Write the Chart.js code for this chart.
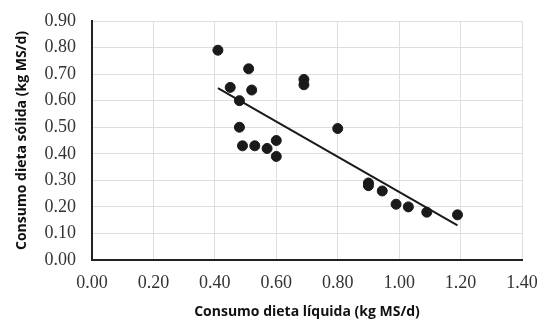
<!DOCTYPE html>
<html>
<head>
<meta charset="utf-8">
<script src="https://cdn.jsdelivr.net/npm/chart.js@4"></script>
<style>
  html, body { margin: 0; padding: 0; background: #fff; }
  #wrap { width: 540px; height: 324px; }
</style>
</head>
<body>
<div id="wrap"><canvas id="scatterChart"></canvas></div>
<script>
// datos
const liquida = [0.41, 0.45, 0.51, 0.52, 0.48, 0.48, 0.49, 0.53, 0.57, 0.60, 0.60, 0.69, 0.69, 0.80, 0.90, 0.90, 0.945, 0.99, 1.03, 1.09, 1.19];
const solida  = [0.79, 0.65, 0.72, 0.64, 0.60, 0.50, 0.43, 0.43, 0.42, 0.45, 0.39, 0.68, 0.66, 0.495, 0.29, 0.28, 0.26, 0.21, 0.20, 0.18, 0.17];
// línea de tendencia (extremos)
const trendX = [0.41, 1.19];
const trendY = [0.647, 0.13];

const puntos = liquida.map((x, i) => ({ x: x, y: solida[i] }));
const tendencia = trendX.map((x, i) => ({ x: x, y: trendY[i] }));

const tickFont = { family: 'Liberation Serif', size: 18 };
const titleFont = { family: 'Open Sans', size: 14, weight: 'bold' };

const ctx = document.getElementById('scatterChart').getContext('2d');
new Chart(ctx, {
    type: 'scatter',
    data: {
        datasets: [{
            data: puntos,
            backgroundColor: '#1a1a1a',
            borderColor: '#1a1a1a',
            pointRadius: 5,
            pointHoverRadius: 5
        }, {
            type: 'line',
            data: tendencia,
            borderColor: '#1a1a1a',
            borderWidth: 2,
            pointRadius: 0,
            fill: false
        }]
    },
    options: {
        responsive: true,
        maintainAspectRatio: false,
        animation: false,
        layout: { padding: { top: 21, right: 18, left: 5, bottom: 0 } },
        plugins: { legend: { display: false }, tooltip: { enabled: false } },
        scales: {
            x: {
                type: 'linear',
                min: 0, max: 1.4,
                ticks: { stepSize: 0.2, color: '#333', font: tickFont, padding: 12,
                         callback: v => v.toFixed(2) },
                grid: { color: '#dedede', lineWidth: 1, drawTicks: false },
                border: { color: '#222', width: 2 },
                title: { display: true, text: 'Consumo dieta líquida (kg MS/d)', color: '#111',
                         font: titleFont, padding: { top: 14 } },
                afterFit: s => { s.height = 64; s.paddingRight = 0; s.paddingLeft = 0; }
            },
            y: {
                min: 0, max: 0.9,
                ticks: { stepSize: 0.1, color: '#333', font: tickFont, padding: 16,
                         callback: v => v.toFixed(2) },
                grid: { color: '#dedede', lineWidth: 1, drawTicks: false },
                border: { color: '#222', width: 2 },
                title: { display: true, text: 'Consumo dieta sólida (kg MS/d)', color: '#111',
                         font: titleFont, padding: { top: 9, bottom: 0 } },
                afterFit: s => { s.width = 87; s.paddingTop = 0; s.paddingBottom = 0; }
            }
        }
    }
});
</script>
</body>
</html>
